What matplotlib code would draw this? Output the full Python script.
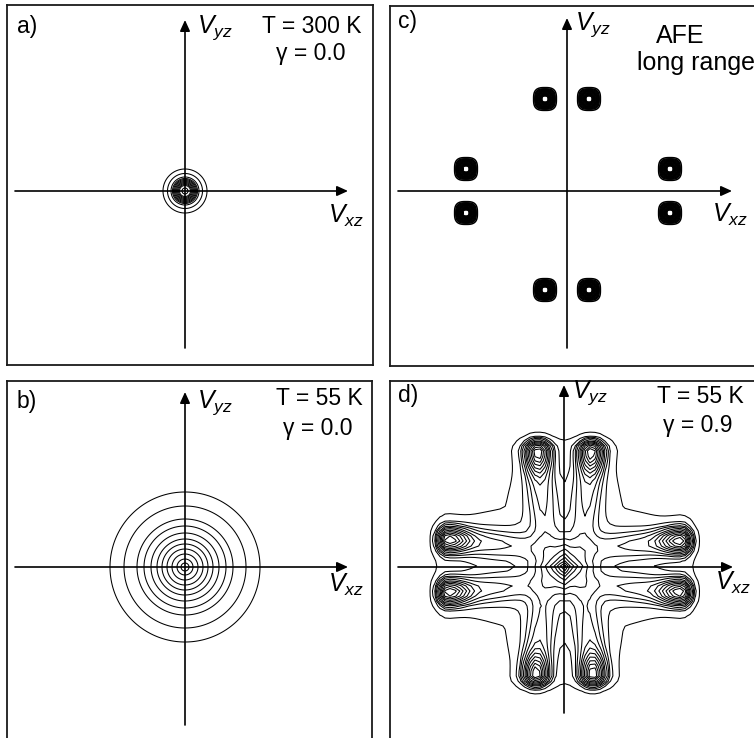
import numpy as np
import matplotlib
matplotlib.use('Agg')
import matplotlib.pyplot as plt

plt.rcParams['font.family'] = ['Liberation Sans', 'DejaVu Sans']
plt.rcParams['mathtext.fontset'] = 'custom'
plt.rcParams['mathtext.it'] = 'Liberation Sans:italic'
plt.rcParams['mathtext.rm'] = 'Liberation Sans'

# ---------------- data (units: pixels of velocity plane) -------------
panel_labels = ['a)', 'b)', 'c)', 'd)']
temperature_labels = ['T = 300 K', 'T = 55 K', 'AFE', 'T = 55 K']
gamma_labels = ['\u03b3 = 0.0', '\u03b3 = 0.0', 'long range', '\u03b3 = 0.9']

# a) T=300 K: narrow isotropic distribution, contour radii
a_contour_radii = [3.0, 5.5, 6.5, 7.5, 8.5, 9.5, 10.5, 11.5, 12.5, 14.0, 17.5, 22.0]
# b) T=55 K, gamma=0: wide isotropic distribution, contour radii
b_contour_radii = [4, 8, 13, 18, 23, 28, 34, 41, 48, 61, 75]
# c) AFE long range: eight sharp peaks
c_peak_x = [-22, 22, -101, 103, -101, 103, -22, 22]
c_peak_y = [92, 92, 22, 22, -22, -22, -99, -99]
c_contour_radii = [3.0, 3.8, 4.6, 5.4, 6.2, 7.0, 7.8, 8.6, 9.4, 10.2, 11.4]
# d) T=55 K, gamma=0.9: eight lobes + central peak + low plateau
d_lobe_x = [-26, 27, -116, -116, 117, 117, -28, 29]
d_lobe_y = [116, 116, 27, -25, 26, -25, -108, -108]
d_center_amp = 1.25
d_center_scale = 11.0
d_core_amp, d_ridge_amp, d_halo_amp = 1.0, 0.3, 0.1
d_plateau_amp = 0.05
d_plateau_halfwidth = 62.0
d_plateau_length = 85.0
d_levels = [0.035, 0.1, 0.16, 0.22, 0.3, 0.4, 0.5, 0.62, 0.75, 0.9, 1.05, 1.2]

# ---------------- layout (figure pixels) ----------------
W, H = 754, 738
fig = plt.figure(figsize=(W / 100, H / 100), dpi=100)

boxes = {'a': (7, 5, 366, 360), 'b': (7, 381, 365, 360),
         'c': (390, 6, 366, 360), 'd': (390, 381, 366, 360)}
centers = {'a': (185, 191), 'b': (185, 567), 'c': (567, 191), 'd': (564, 567)}
haxis = {'a': (-170, 163), 'b': (-170, 163), 'c': (-169, 165), 'd': (-166, 169)}
vaxis = {'a': (-157, 171), 'b': (-158, 175), 'c': (-157, 173), 'd': (-146, 182)}
# text anchor positions in image pixels
txt = {
    'a': dict(lab=(17, 33), t=(312, 33), g=(311, 60), vy=(197, 33), vx=(328, 223)),
    'b': dict(lab=(17, 408), t=(319, 405), g=(318, 435), vy=(197, 408), vx=(328, 592)),
    'c': dict(lab=(398, 28), t=(680, 43), g=(637, 70), vy=(575, 30), vx=(712, 222)),
    'd': dict(lab=(398, 402), t=(700, 403), g=(698, 432), vy=(572, 398), vx=(715, 590)),
}

FS = 16.5
LW_C = 0.75


def make_ax(key):
    l, t, w, h = boxes[key]
    cx, cy = centers[key]
    ax = fig.add_axes([l / W, 1 - (t + h) / H, w / W, h / H])
    ax.set_xlim(l - cx, l + w - cx)
    ax.set_ylim(cy - (t + h), cy - t)
    ax.set_xticks([]); ax.set_yticks([])
    for s in ax.spines.values():
        s.set_linewidth(1.3); s.set_color('#1a1a1a')
    return ax


def to_data(key, p):
    cx, cy = centers[key]
    return p[0] - cx, cy - p[1]


def grid(key, step):
    l, t, w, h = boxes[key]
    cx, cy = centers[key]
    x = np.arange(l - cx, l + w - cx + step, step)
    y = np.arange(cy - (t + h), cy - t + step, step)
    return np.meshgrid(x, y)


def decorate(ax, key, i):
    hx0, hx1 = haxis[key]
    vy0, vy1 = vaxis[key]
    ap = dict(arrowstyle='-|>,head_length=0.55,head_width=0.25', lw=1.2,
              color='k', shrinkA=0, shrinkB=0, mutation_scale=12)
    ax.annotate('', xy=(hx1, 0), xytext=(hx0, 0), arrowprops=ap, zorder=5)
    ax.annotate('', xy=(0, vy1), xytext=(0, vy0), arrowprops=ap, zorder=5)
    T = txt[key]
    ax.text(*to_data(key, T['lab']), panel_labels[i], fontsize=FS, ha='left', va='baseline')
    ax.text(*to_data(key, T['vy']), r'$V_{yz}$', fontsize=18, ha='left', va='baseline')
    ax.text(*to_data(key, T['vx']), r'$V_{xz}$', fontsize=18, ha='left', va='baseline')
    if key == 'c':
        ax.text(*to_data(key, T['t']), temperature_labels[i], fontsize=18, ha='center', va='baseline')
        ax.text(*to_data(key, T['g']), gamma_labels[i], fontsize=18, ha='left', va='baseline')
    else:
        ax.text(*to_data(key, T['t']), temperature_labels[i], fontsize=FS, ha='center', va='baseline')
        ax.text(*to_data(key, T['g']), gamma_labels[i], fontsize=FS, ha='center', va='baseline')


# ---- a ----
ax = make_ax('a')
X, Y = grid('a', 0.5)
R = np.hypot(X, Y)
ax.contour(X, Y, R, levels=a_contour_radii, colors='k', linewidths=LW_C)
decorate(ax, 'a', 0)

# ---- b ----
ax = make_ax('b')
X, Y = grid('b', 1.0)
R = np.hypot(X, Y)
ax.contour(X, Y, R, levels=b_contour_radii, colors='k', linewidths=LW_C)
decorate(ax, 'b', 1)

# ---- c ----
ax = make_ax('c')
X, Y = grid('c', 0.5)
D = np.full(X.shape, 1e9)
for px, py in zip(c_peak_x, c_peak_y):
    d = (np.abs(X - px) ** 3 + np.abs(Y - py) ** 3) ** (1 / 3)
    D = np.minimum(D, d)
ax.contour(X, Y, D, levels=c_contour_radii, colors='k', linewidths=1.1)
decorate(ax, 'c', 2)

# ---- d ----
ax = make_ax('d')
X, Y = grid('d', 5.0)
F = d_center_amp * np.exp(-(np.abs(X) + np.abs(Y)) / d_center_scale)
mn = np.minimum(np.abs(X), np.abs(Y))
mx = np.maximum(np.abs(X), np.abs(Y))
F = F + d_plateau_amp * np.exp(-(mn / d_plateau_halfwidth) ** 8) * np.exp(-(mx / d_plateau_length) ** 6)
for lx, ly in zip(d_lobe_x, d_lobe_y):
    if abs(lx) > abs(ly):
        s = np.sign(lx); a = s * X; perp = Y; p0 = ly; a0 = abs(lx)
    else:
        s = np.sign(ly); a = s * Y; perp = X; p0 = lx; a0 = abs(ly)
    da = a - a0
    # ridge centre drifts slightly toward the axis on the way in
    pc = p0 * (0.62 + 0.38 * np.clip(a / a0, 0, 1))
    p = perp - pc
    core = np.exp(-da ** 2 / (2 * np.where(da > 0, 6.0, 13.0) ** 2) - (perp - p0) ** 2 / (2 * 7.0 ** 2))
    ridge = np.exp(-da ** 2 / (2 * np.where(da > 0, 6.0, 58.0) ** 2) - p ** 2 / (2 * 8.5 ** 2))
    halo = np.exp(-da ** 2 / (2 * np.where(da > 0, 10.0, 70.0) ** 2) - p ** 2 / (2 * 17.0 ** 2))
    F = F + d_core_amp * core + d_ridge_amp * ridge + d_halo_amp * halo
ax.contour(X, Y, F, levels=d_levels, colors='k', linewidths=LW_C)
decorate(ax, 'd', 3)

fig.savefig('out.png', dpi=100)
